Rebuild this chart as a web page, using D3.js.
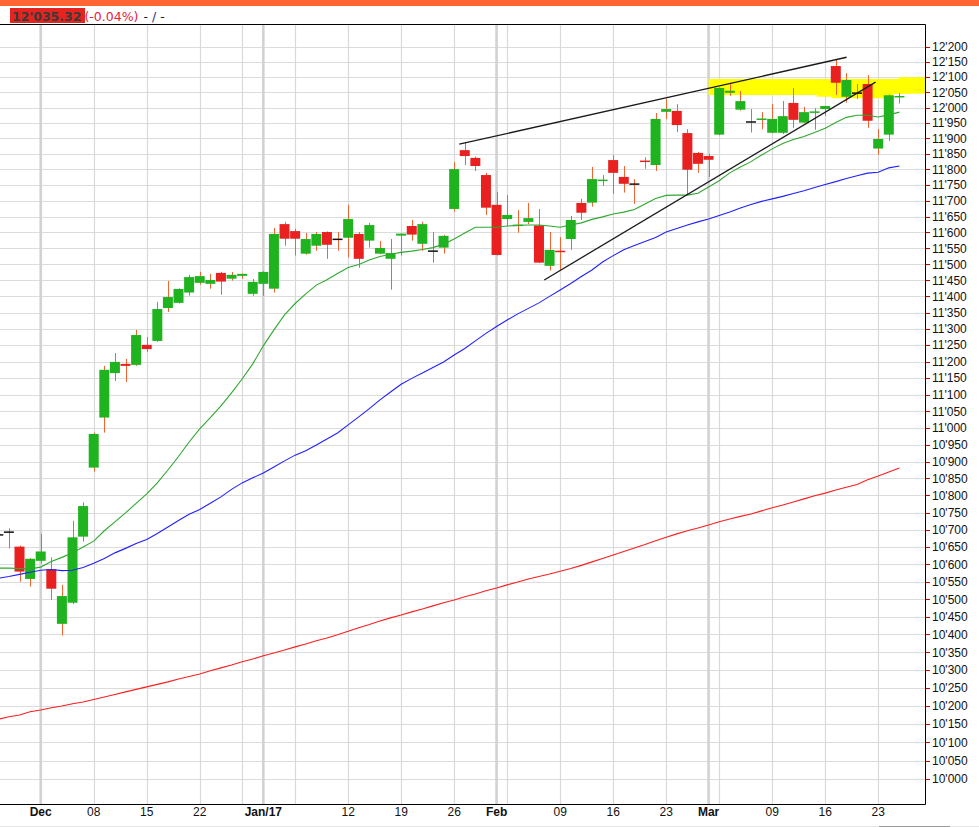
<!DOCTYPE html>
<html><head><meta charset="utf-8">
<script src="https://cdn.jsdelivr.net/npm/d3@7"></script>
<style>html,body{margin:0;padding:0;background:#fff;overflow:hidden}</style>
</head><body>
<svg id="c" width="979" height="827"></svg>
<script>
const dates = ["2016-11-25","2016-11-28","2016-11-29","2016-11-30",
"2016-12-01","2016-12-02","2016-12-05","2016-12-06","2016-12-07","2016-12-08","2016-12-09","2016-12-12","2016-12-13","2016-12-14","2016-12-15","2016-12-16","2016-12-19","2016-12-20","2016-12-21","2016-12-22","2016-12-23","2016-12-27","2016-12-28","2016-12-29","2016-12-30",
"2017-01-02","2017-01-03","2017-01-04","2017-01-05","2017-01-06","2017-01-09","2017-01-10","2017-01-11","2017-01-12","2017-01-13","2017-01-16","2017-01-17","2017-01-18","2017-01-19","2017-01-20","2017-01-23","2017-01-24","2017-01-25","2017-01-26","2017-01-27","2017-01-30","2017-01-31",
"2017-02-01","2017-02-02","2017-02-03","2017-02-06","2017-02-07","2017-02-08","2017-02-09","2017-02-10","2017-02-13","2017-02-14","2017-02-15","2017-02-16","2017-02-17","2017-02-20","2017-02-21","2017-02-22","2017-02-23","2017-02-24","2017-02-27","2017-02-28",
"2017-03-01","2017-03-02","2017-03-03","2017-03-06","2017-03-07","2017-03-08","2017-03-09","2017-03-10","2017-03-13","2017-03-14","2017-03-15","2017-03-16","2017-03-17","2017-03-20","2017-03-21","2017-03-22","2017-03-23","2017-03-24","2017-03-27"];

const open = [10685,10693,10651,10558,
10610,10586,10430,10490,10680,10882,11031,11165,11193,11190,11251,11263,11364,11380,11412,11442,11439,11473,11455,11464,11408,
11439,11424,11626,11604,11533,11558,11601,11578,11583,11595,11574,11533,11517,11590,11620,11564,11541,11552,11674,11862,11837,11782,
11687,11642,11621,11633,11622,11495,11541,11579,11693,11694,11764,11830,11776,11753,11828,11814,11986,11989,11917,11853,
11843,11912,12048,11993,11953,11961,11918,11918,12015,11951,11984,11995,12136,12035,12047,12077,11867,11912,12032];
const high = [10695,10704,10654,10618,
10688,10620,10541,10726,10780,10986,11187,11226,11208,11297,11275,11383,11448,11425,11467,11476,11470,11476,11476,11471,11454,
11478,11614,11633,11611,11598,11601,11603,11601,11687,11601,11630,11573,11579,11597,11639,11633,11601,11592,11824,11886,11841,11789,
11728,11718,11671,11693,11674,11601,11585,11652,11706,11808,11782,11846,11811,11769,11839,11982,12028,12011,11930,11856,
11850,12066,12081,12054,11995,11985,12011,12021,12064,12002,11998,12006,12156,12113,12077,12106,11930,12043,12047];
const low = [10675,10646,10550,10536,
10603,10498,10397,10486,10666,10870,10986,11141,11138,11187,11229,11260,11352,11378,11402,11436,11424,11405,11449,11455,11402,
11402,11412,11558,11527,11530,11542,11517,11542,11521,11489,11552,11531,11421,11527,11574,11542,11505,11533,11665,11814,11795,11655,
11527,11620,11599,11626,11503,11480,11482,11545,11639,11681,11747,11722,11726,11690,11802,11795,11962,11920,11718,11789,
11776,11910,12038,11990,11919,11929,11916,11914,11934,11949,11928,11973,12041,12016,12028,11934,11847,11892,12013];
const close = [10685,10693,10579,10616,
10637,10530,10509,10678,10769,10982,11175,11199,11187,11281,11238,11361,11398,11423,11460,11463,11451,11446,11467,11470,11445,
11476,11595,11580,11580,11579,11595,11561,11578,11642,11517,11623,11551,11535,11596,11593,11626,11541,11589,11801,11843,11811,11678,
11529,11655,11622,11645,11505,11545,11540,11639,11662,11769,11765,11789,11754,11753,11826,11963,11995,11943,11799,11818,
11831,12064,12055,12021,11953,11962,11963,11972,11960,11985,11985,12005,12081,12090,12047,11957,11898,12040,12035.32];

const maShort = [10589,10589,10588,10587,
10592,10608,10620,10633,10650,10667,10697,10723,10749,10777,10805,10837,10875,10915,10958,10997,11031,11066,11105,11147,11193,
11248,11297,11343,11378,11408,11435,11452,11471,11490,11499,11513,11524,11531,11537,11541,11546,11552,11563,11579,11598,11616,11616,
11616,11620,11622,11623,11623,11620,11616,11623,11630,11641,11649,11658,11664,11672,11690,11707,11717,11718,11718,11724,
11744,11764,11789,11808,11825,11846,11866,11883,11896,11906,11919,11933,11951,11968,11975,11975,11969,11976,11985];
const maMid = [10560,10565,10571,10577,
10583,10585,10582,10583,10591,10603,10617,10633,10646,10660,10672,10689,10708,10727,10745,10759,10777,10796,10818,10837,10852,
10866,10884,10902,10919,10932,10949,10967,10985,11009,11033,11058,11084,11108,11131,11149,11165,11182,11199,11220,11240,11263,11286,
11307,11327,11346,11363,11380,11400,11420,11440,11462,11482,11507,11527,11545,11559,11571,11584,11601,11612,11623,11633,
11642,11653,11664,11677,11688,11698,11706,11714,11723,11732,11742,11752,11761,11771,11780,11788,11791,11805,11811];
const maLong = [10163,10170,10175,10184,
10189,10195,10200,10206,10211,10218,10225,10232,10239,10246,10253,10260,10267,10275,10282,10289,10298,10306,10314,10323,10331,
10340,10348,10356,10365,10373,10382,10390,10399,10409,10419,10428,10438,10447,10455,10464,10472,10481,10490,10498,10507,10515,10524,
10532,10541,10549,10558,10565,10572,10580,10588,10597,10607,10617,10627,10637,10647,10657,10668,10678,10688,10697,10705,
10714,10723,10731,10739,10746,10755,10764,10772,10781,10790,10799,10807,10816,10824,10832,10846,10857,10869,10881];

const yTicks = [10000,10050,10100,10150,10200,10250,10300,10350,10400,10450,10500,10550,10600,10650,10700,10750,10800,10850,10900,10950,
11000,11050,11100,11150,11200,11250,11300,11350,11400,11450,11500,11550,11600,11650,11700,11750,11800,11850,11900,11950,
12000,12050,12100,12150,12200];
const xLabels = [["2016-12-01","Dec",true],["2016-12-08","08",false],["2016-12-15","15",false],["2016-12-22","22",false],
["2017-01-02","Jan/17",true],["2017-01-12","12",false],["2017-01-19","19",false],["2017-01-26","26",false],
["2017-02-01","Feb",true],["2017-02-09","09",false],["2017-02-16","16",false],["2017-02-23","23",false],
["2017-03-01","Mar",true],["2017-03-09","09",false],["2017-03-16","16",false],["2017-03-23","23",false]];
const weekGrid = ["2016-12-01","2016-12-08","2016-12-15","2016-12-22","2016-12-29","2017-01-05","2017-01-12","2017-01-19","2017-01-26",
"2017-02-02","2017-02-09","2017-02-16","2017-02-23","2017-03-02","2017-03-09","2017-03-16","2017-03-23"];
const monthGrid = ["2016-12-01","2017-01-02","2017-02-01","2017-03-01"];
const trendLines = [[[43.48,11881],[80.02,12165]],[[51.5,11451],[82.75,12083]]];
const zone = [[67.0,12093],[84.9,12093],[84.9,12099],[87.6,12099],[87.6,12046],[84.4,12044],[84.4,12030],[78.6,12030],[78.6,12035],[77.2,12035],[77.2,12041],[67.0,12041]];
const lastPrice = "12'035.32", lastChange = "(-0.04%)";

const svg = d3.select("#c");
const P = {l:0, r:925, t:25, b:804};
const x = d3.scaleLinear().domain([0, dates.length-1]).range([-1.7, 899.4]);
const xd = d => x(dates.indexOf(d));
const y = d3.scaleLog().domain([9932, 12272]).range([P.b, P.t]);
const fmt = v => d3.format(",")(v).replace(/,/g, "'");

// header
svg.append("rect").attr("x",0).attr("y",0).attr("width",979).attr("height",6).attr("fill","#ff6633");
svg.append("rect").attr("x",10).attr("y",8).attr("width",75).attr("height",15).attr("fill","#e52420");
const ht = svg.append("text").attr("x",12).attr("y",20.5).style("font-family","DejaVu Sans").style("font-size","12.5px");
ht.append("tspan").attr("font-weight","bold").attr("fill","#3a3a3a").text(lastPrice);
ht.append("tspan").attr("dx",3).attr("fill","#e8203c").text(lastChange);
ht.append("tspan").attr("dx",5).attr("fill","#222").text("-");
ht.append("tspan").attr("dx",4).attr("fill","#1a3580").text("/");
ht.append("tspan").attr("dx",4).attr("fill","#222").text("-");

svg.append("defs").append("clipPath").attr("id","pc").append("rect")
  .attr("x",P.l).attr("y",P.t).attr("width",P.r-P.l).attr("height",P.b-P.t);
const g = svg.append("g").attr("clip-path","url(#pc)");

// grid
g.selectAll(".hg").data(yTicks).join("line")
  .attr("x1",P.l).attr("x2",P.r).attr("y1",d=>Math.round(y(d))+0.5).attr("y2",d=>Math.round(y(d))+0.5)
  .attr("stroke","#dcdcdc").attr("stroke-width",1);
g.selectAll(".vg").data(weekGrid).join("line")
  .attr("x1",d=>Math.round(xd(d))+0.5).attr("x2",d=>Math.round(xd(d))+0.5).attr("y1",P.t).attr("y2",P.b)
  .attr("stroke","#d9d9d9").attr("stroke-width",1.2);
g.selectAll(".mg").data(monthGrid).join("line")
  .attr("x1",d=>xd(d)).attr("x2",d=>xd(d)).attr("y1",P.t).attr("y2",P.b)
  .attr("stroke","#d2d2d2").attr("stroke-width",2.6);

// yellow zone
g.append("polygon").attr("points", zone.map(p=>[x(p[0]),y(p[1])].join(",")).join(" ")).attr("fill","#ffff00");

// candles
const idx = d3.range(dates.length);
g.selectAll(".wick").data(idx).join("line")
  .attr("x1",i=>Math.round(x(i))+0.5).attr("x2",i=>Math.round(x(i))+0.5)
  .attr("y1",i=>y(high[i])).attr("y2",i=>y(low[i]))
  .attr("stroke","#f26430").attr("stroke-width",1);
const up = "#1fb41f", dn = "#e82020";
idx.forEach(i=>{
  const cx = x(i), o=open[i], c=close[i];
  if (Math.abs(o-c) < 4) {
    g.append("line").attr("x1",cx-5).attr("x2",cx+5).attr("y1",y(c)).attr("y2",y(c))
      .attr("stroke", o===c ? "#111" : (c>o?up:dn)).attr("stroke-width",1.5);
  } else {
    const y0 = y(Math.max(o,c)), y1 = y(Math.min(o,c));
    g.append("rect").attr("x",cx-5).attr("width",10).attr("y",y0).attr("height",Math.max(2,y1-y0))
      .attr("fill", c>o?up:dn);
  }
});

// moving averages
const line = d3.line().x((d,i)=>x(i)).y(d=>y(d));
g.append("path").attr("d",line(maLong)).attr("fill","none").attr("stroke","#ff1e1e").attr("stroke-width",1.1);
g.append("path").attr("d",line(maMid)).attr("fill","none").attr("stroke","#2020ff").attr("stroke-width",1.1);
g.append("path").attr("d",line(maShort)).attr("fill","none").attr("stroke","#2ea82e").attr("stroke-width",1.1);

// trend lines
trendLines.forEach(t=>{
  g.append("line").attr("x1",x(t[0][0])).attr("y1",y(t[0][1])).attr("x2",x(t[1][0])).attr("y2",y(t[1][1]))
    .attr("stroke","#1a1a1a").attr("stroke-width",1.3);
});

// frame
svg.append("line").attr("x1",0).attr("x2",P.r+0.5).attr("y1",24.5).attr("y2",24.5).attr("stroke","#000");
svg.append("line").attr("x1",P.r+0.5).attr("x2",P.r+0.5).attr("y1",24.5).attr("y2",P.b+0.5).attr("stroke","#000");
svg.append("line").attr("x1",0).attr("x2",P.r+0.5).attr("y1",P.b+0.5).attr("y2",P.b+0.5).attr("stroke","#000");

// y axis
const ya = svg.append("g");
ya.selectAll(".tk").data(yTicks).join("line")
  .attr("x1",P.r+1).attr("x2",P.r+5).attr("y1",d=>Math.round(y(d))+0.5).attr("y2",d=>Math.round(y(d))+0.5)
  .attr("stroke","#e00000");
ya.selectAll(".tl").data(yTicks).join("text")
  .attr("x",932).attr("y",d=>y(d)).attr("dy","0.36em")
  .style("font-family","Liberation Sans, Arial, sans-serif").style("font-size","12px").attr("fill","#111")
  .text(fmt);

// x axis labels
svg.selectAll(".xl").data(xLabels).join("text")
  .attr("x",d=>xd(d[0])).attr("y",816).attr("text-anchor","middle")
  .style("font-family","Liberation Sans, Arial, sans-serif").style("font-size","12px")
  .attr("font-weight",d=>d[2]?"bold":"normal").attr("fill","#111").text(d=>d[1]);

// bottom strip
svg.append("line").attr("x1",0).attr("x2",979).attr("y1",826.5).attr("y2",826.5).attr("stroke","#e6e6e6");
svg.append("line").attr("x1",879).attr("x2",950).attr("y1",826.5).attr("y2",826.5).attr("stroke","#9a9a9a");
</script>
</body></html>
